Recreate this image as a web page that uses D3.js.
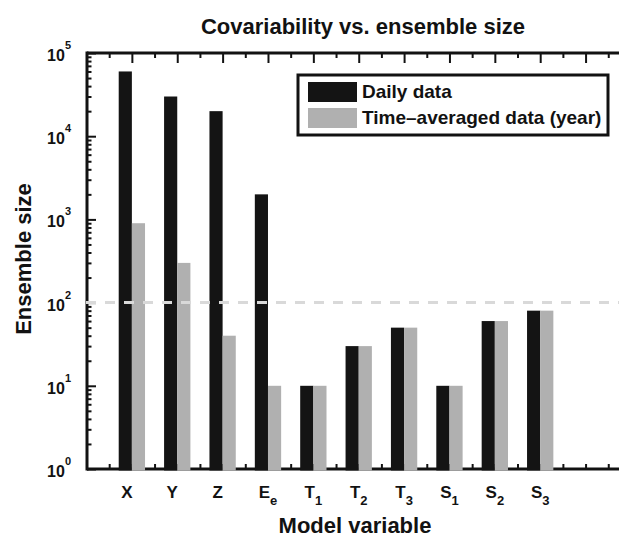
<!DOCTYPE html>
<html>
<head>
<meta charset="utf-8">
<script src="https://cdn.jsdelivr.net/npm/d3@7"></script>
<style>
  html, body { margin: 0; padding: 0; background: #fff; }
  svg { display: block; font-family: "Liberation Sans", Arial, Helvetica, sans-serif; font-weight: bold; }
</style>
</head>
<body>
<svg id="chart" width="619" height="538"></svg>
<script>
// Model variables (main letter + subscript)
const categories = ["X", "Y", "Z", "E", "T", "T", "T", "S", "S", "S"];
const subscripts = ["", "", "", "e", "1", "2", "3", "1", "2", "3"];

// Ensemble size needed for each variable
const dailyData  = [60000, 30000, 20000, 2000, 10, 30, 50, 10, 60, 80];
const yearlyData = [900, 300, 40, 10, 10, 30, 50, 10, 60, 80];

const seriesNames = ["Daily data", "Time\u2013averaged data (year)"];
const referenceSize = 100;
const yTickExponents = [0, 1, 2, 3, 4, 5];

(function draw() {
  const svg = d3.select("#chart");
  const ink = "#121212";
  const colors = ["#141414", "#b0b0b0"];

  const plotLeft = 87, plotTop = 53, plotBottom = 469;
  const x = d3.scaleLinear().domain([0, 12]).range([plotLeft - 0.5, plotLeft - 0.5 + 12 * 45.37]);
  const y = d3.scaleLog().domain([1, 1e5]).range([plotBottom, plotTop]);
  const plotRight = x(12);

  const halfSteps = d3.range(0.5, 12, 0.5);
  const majorX = halfSteps.filter(d => d % 1 === 0);
  const minorX = halfSteps.filter(d => d % 1 !== 0);

  const majorY = yTickExponents.map(e => Math.pow(10, e));
  const minorY = [];
  yTickExponents.slice(0, -1).forEach(e => {
    for (let m = 2; m <= 9; m++) minorY.push(m * Math.pow(10, e));
  });

  function styleAxis(g) {
    g.select(".domain").remove();
    g.selectAll(".tick line").attr("stroke", ink).attr("stroke-width", 2);
    g.selectAll(".tick text").remove();
  }

  // Ticks: top (pointing down), bottom (pointing up), left (pointing right)
  svg.append("g").attr("transform", `translate(0,${plotTop})`)
    .call(d3.axisBottom(x).tickValues(majorX).tickSize(10).tickSizeOuter(0)).call(styleAxis);
  svg.append("g").attr("transform", `translate(0,${plotTop})`)
    .call(d3.axisBottom(x).tickValues(minorX).tickSize(5).tickSizeOuter(0)).call(styleAxis);
  svg.append("g").attr("transform", `translate(0,${plotBottom})`)
    .call(d3.axisTop(x).tickValues(halfSteps).tickSize(5).tickSizeOuter(0)).call(styleAxis);
  svg.append("g").attr("transform", `translate(${plotLeft},0)`)
    .call(d3.axisRight(y).tickValues(majorY).tickSize(9).tickSizeOuter(0)).call(styleAxis);
  svg.append("g").attr("transform", `translate(${plotLeft},0)`)
    .call(d3.axisRight(y).tickValues(minorY).tickSize(4.5).tickSizeOuter(0)).call(styleAxis);

  // Axis frame lines
  svg.append("line").attr("x1", plotLeft).attr("x2", plotRight).attr("y1", plotTop).attr("y2", plotTop)
    .attr("stroke", ink).attr("stroke-width", 3);
  svg.append("line").attr("x1", plotLeft).attr("x2", plotRight).attr("y1", plotBottom).attr("y2", plotBottom)
    .attr("stroke", ink).attr("stroke-width", 3);
  svg.append("line").attr("x1", plotLeft).attr("x2", plotLeft).attr("y1", plotTop - 1.5).attr("y2", plotBottom + 1.5)
    .attr("stroke", ink).attr("stroke-width", 3);

  // Bars
  const barW = 0.29;
  const groups = categories.map((c, i) => ({ i, pos: i + 1, values: [dailyData[i], yearlyData[i]] }));
  const barBase = y(1) + 1.5;
  groups.forEach(g => {
    g.values.forEach((v, s) => {
      const x0 = s === 0 ? x(g.pos - barW) : x(g.pos);
      svg.append("rect")
        .attr("x", x0)
        .attr("width", x(g.pos + barW) - x(g.pos))
        .attr("y", y(v))
        .attr("height", barBase - y(v))
        .attr("fill", colors[s]);
    });
  });

  // Reference line at ensemble size 100
  svg.append("line")
    .attr("x1", plotLeft - 1).attr("x2", plotRight)
    .attr("y1", y(referenceSize)).attr("y2", y(referenceSize))
    .attr("stroke", "#d9d9d9").attr("stroke-width", 3)
    .attr("stroke-dasharray", "10,9");

  // Y tick labels 10^n
  yTickExponents.forEach(e => {
    const t = svg.append("text")
      .attr("x", 71).attr("y", y(Math.pow(10, e)) + 8)
      .attr("text-anchor", "end").attr("font-size", 16).attr("fill", ink);
    t.append("tspan").text("10");
    t.append("tspan").attr("dy", -12).attr("font-size", 11).text(String(e));
  });

  // X tick labels with subscripts
  groups.forEach(g => {
    const t = svg.append("text")
      .attr("x", x(g.pos) + (subscripts[g.i] ? 0 : -5))
      .attr("y", 498)
      .attr("text-anchor", "middle").attr("font-size", 17).attr("fill", ink);
    t.append("tspan").text(categories[g.i]);
    if (subscripts[g.i]) t.append("tspan").attr("dy", 7).attr("font-size", 13).text(subscripts[g.i]);
  });

  // Title and axis labels
  svg.append("text").attr("x", 363).attr("y", 34).attr("text-anchor", "middle")
    .attr("font-size", 22).attr("fill", ink).text("Covariability vs. ensemble size");
  svg.append("text").attr("x", 355).attr("y", 533).attr("text-anchor", "middle")
    .attr("font-size", 22).attr("fill", ink).text("Model variable");
  svg.append("text").attr("transform", `translate(31,259) rotate(-90)`)
    .attr("text-anchor", "middle").attr("font-size", 22).attr("fill", ink).text("Ensemble size");

  // Legend
  const legend = svg.append("g").attr("transform", "translate(298,75)");
  legend.append("rect").attr("width", 310).attr("height", 60)
    .attr("fill", "#fff").attr("stroke", ink).attr("stroke-width", 3);
  seriesNames.forEach((name, s) => {
    legend.append("rect").attr("x", 10).attr("y", 7 + s * 26).attr("width", 49).attr("height", 20)
      .attr("fill", colors[s]);
    legend.append("text").attr("x", 64).attr("y", 23 + s * 26)
      .attr("font-size", 19).attr("fill", ink).text(name);
  });
})();
</script>
</body>
</html>
